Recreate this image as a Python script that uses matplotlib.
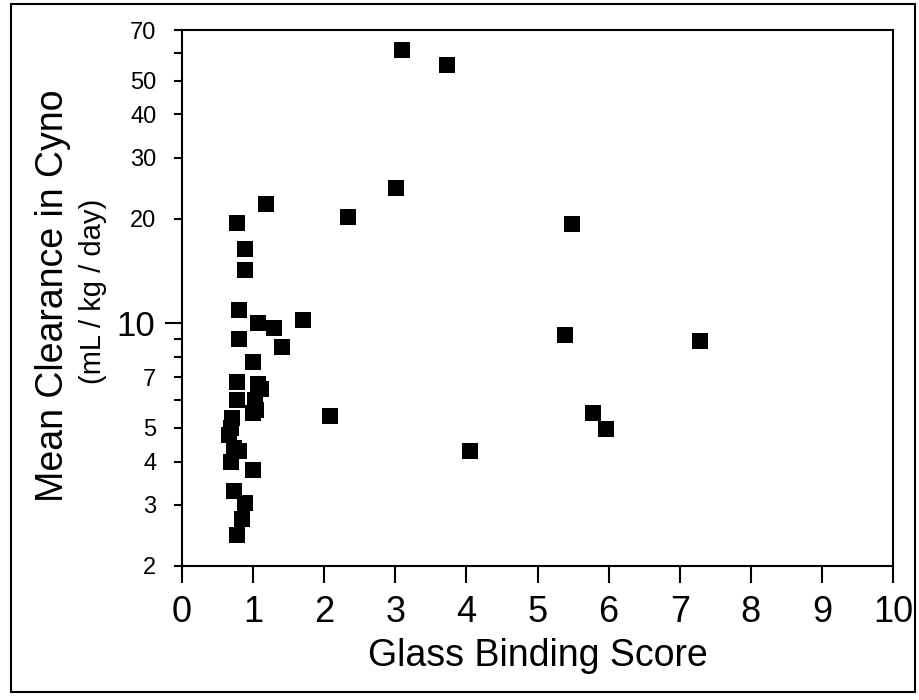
import matplotlib
matplotlib.use("Agg")
import matplotlib.pyplot as plt
from matplotlib.patches import Rectangle
from matplotlib.ticker import FixedLocator, FixedFormatter

plt.rcParams['font.family'] = ['Liberation Sans', 'DejaVu Sans']

# Data: Glass Binding Score vs Mean Clearance in Cyno (mL/kg/day)
glass_binding = [3.10, 3.73, 3.01, 2.33, 1.18, 0.77, 5.49, 0.89, 0.89, 0.80,
                 1.07, 1.29, 1.70, 0.80, 1.41, 5.38, 7.28, 1.00, 0.77, 1.07,
                 1.11, 0.77, 1.02, 1.04, 1.00, 2.08, 0.70, 0.69, 0.66, 0.73,
                 0.80, 0.69, 1.00, 4.05, 5.78, 5.97, 0.73, 0.89, 0.85, 0.77]
clearance = [61.4, 55.6, 24.5, 20.2, 22.1, 19.5, 19.3, 16.4, 14.2, 10.9,
             10.0, 9.68, 10.24, 8.99, 8.54, 9.23, 8.87, 7.74, 6.78, 6.68,
             6.45, 6.01, 6.0, 5.62, 5.51, 5.41, 5.33, 4.99, 4.77, 4.37,
             4.30, 4.0, 3.79, 4.3, 5.51, 4.96, 3.30, 3.04, 2.73, 2.45]

x_ticks = [0, 1, 2, 3, 4, 5, 6, 7, 8, 9, 10]
y_major_ticks = [10]
y_minor_ticks = [2, 3, 4, 5, 6, 7, 8, 9, 20, 30, 40, 50, 60, 70]
y_minor_labels = ['2', '3', '4', '5', '', '7', '', '', '20', '30', '40', '50', '', '70']

fig = plt.figure(figsize=(9.2, 7.0), dpi=100)
ax = fig.add_axes([182/920, 1 - 566/700, (893 - 182)/920, (566 - 30)/700])

ax.scatter(glass_binding, clearance, marker='s', s=125, color='black',
           linewidths=0, zorder=3, clip_on=False)

ax.set_yscale('log')
ax.set_xlim(0, 10)
ax.set_ylim(2, 70)
ax.set_xticks(x_ticks)
ax.set_xticklabels([str(t) for t in x_ticks], fontsize=26)

ax.yaxis.set_major_locator(FixedLocator(y_major_ticks))
ax.yaxis.set_major_formatter(FixedFormatter(['10']))
ax.yaxis.set_minor_locator(FixedLocator(y_minor_ticks))
ax.yaxis.set_minor_formatter(FixedFormatter(y_minor_labels))

ax.tick_params(axis='x', direction='out', length=12, width=1.5, pad=9)
ax.tick_params(axis='y', which='major', direction='out', length=12, width=1.5,
               pad=7, labelsize=25)
ax.tick_params(axis='y', which='minor', direction='out', length=5.5, width=1.5,
               pad=13, labelsize=17)
for sp in ax.spines.values():
    sp.set_linewidth(1.5)

fig.text(63/920, 1 - 296/700, 'Mean Clearance in Cyno', fontsize=27,
         rotation=90, rotation_mode='anchor', ha='center', va='baseline')
fig.text(101/920, 1 - 291/700, '(mL / kg / day)', fontsize=21,
         rotation=90, rotation_mode='anchor', ha='center', va='baseline')
fig.text(538/920, 1 - 666/700, 'Glass Binding Score', fontsize=27,
         ha='center', va='baseline')

fig.patches.append(Rectangle((11/920, 1 - 692/700), (915 - 11)/920, (692 - 4)/700,
                             transform=fig.transFigure, fill=False,
                             edgecolor='black', linewidth=1.5))

fig.savefig('out.png', dpi=100)
